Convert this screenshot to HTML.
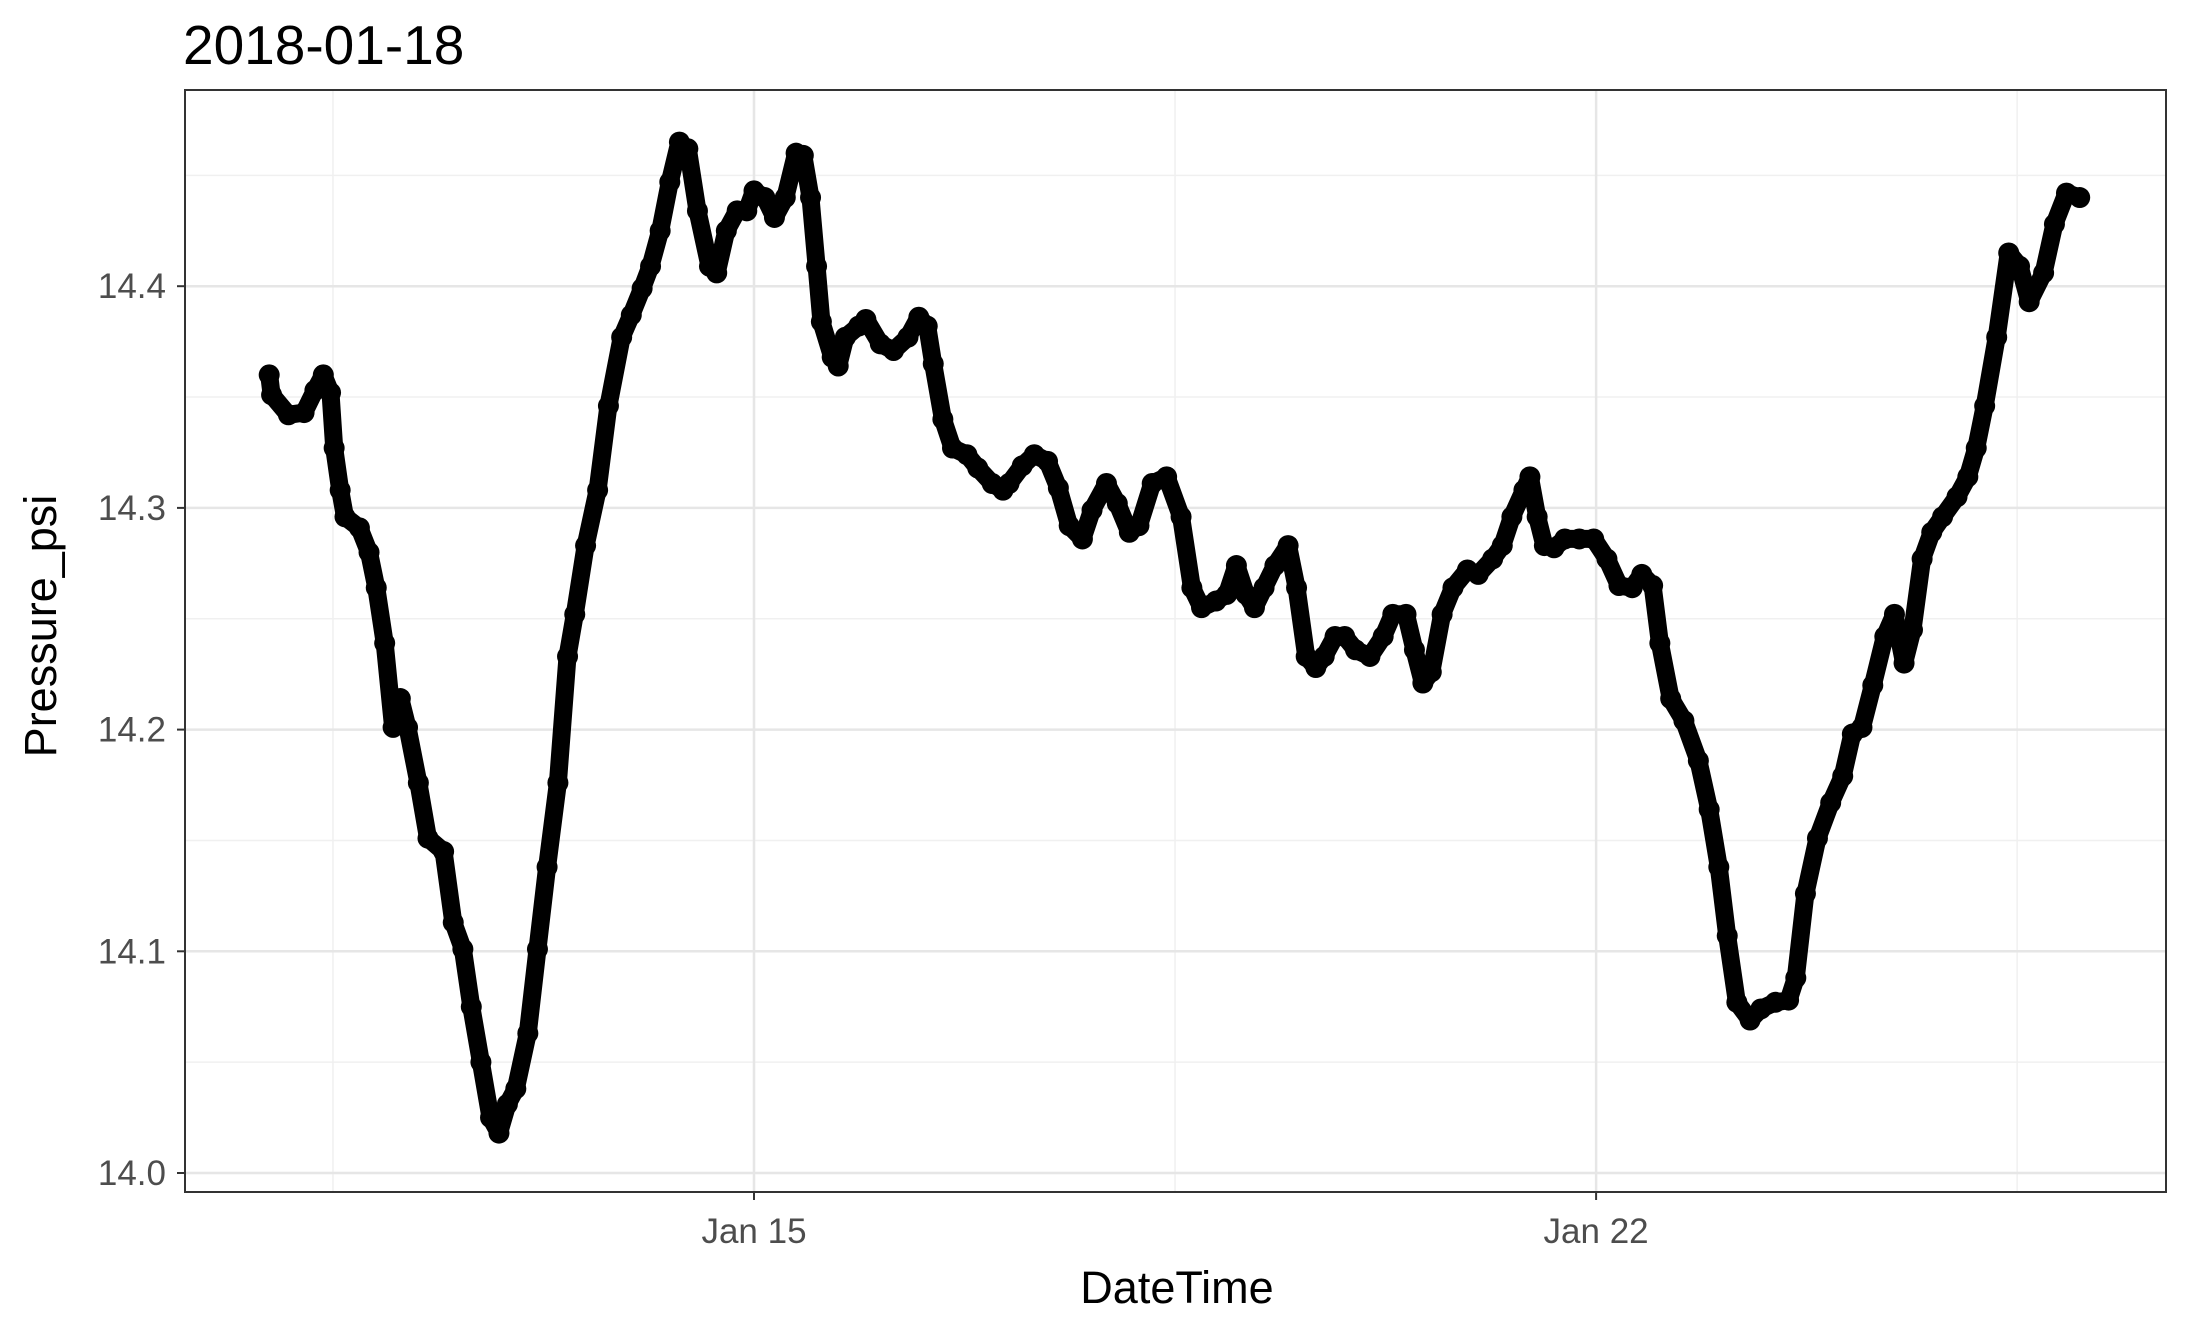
<!DOCTYPE html>
<html><head><meta charset="utf-8">
<style>
html,body{margin:0;padding:0;background:#fff;}
svg{display:block;font-family:"Liberation Sans",Arial,sans-serif;}
</style></head>
<body>
<svg id="chart" width="2190" height="1321" viewBox="0 0 2190 1321">
<rect width="2190" height="1321" fill="#fff"/>
<text x="183" y="64" font-size="55" fill="#000">2018-01-18</text>
<rect x="185" y="90" width="1981" height="1102" fill="#fff"/>
<g id="grid"></g>
<g id="series"></g>
<rect x="185" y="90" width="1981" height="1102" fill="none" stroke="#333" stroke-width="2"/>
<g id="axes"></g>
<text x="1177" y="1303" font-size="45" text-anchor="middle" fill="#000">DateTime</text>
<text transform="translate(56,626) rotate(-90)" font-size="45" text-anchor="middle" fill="#000">Pressure_psi</text>
</svg>
<script>
const days=[10.97,10.99,11.13,11.26,11.35,11.42,11.48,11.51,11.56,11.60,11.72,11.80,11.86,11.93,12.00,12.06,12.12,12.21,12.29,12.42,12.50,12.58,12.65,12.73,12.81,12.88,12.95,13.02,13.12,13.20,13.28,13.37,13.45,13.51,13.60,13.70,13.79,13.90,13.98,14.07,14.14,14.22,14.30,14.38,14.45,14.53,14.63,14.69,14.77,14.86,14.94,15.00,15.09,15.17,15.26,15.35,15.41,15.47,15.52,15.56,15.65,15.70,15.76,15.87,15.93,16.05,16.16,16.28,16.37,16.44,16.49,16.57,16.65,16.77,16.86,16.98,17.07,17.12,17.23,17.33,17.44,17.53,17.62,17.73,17.81,17.93,18.02,18.12,18.20,18.31,18.43,18.55,18.64,18.72,18.84,18.93,19.01,19.09,19.16,19.24,19.33,19.44,19.51,19.59,19.67,19.74,19.83,19.91,20.00,20.12,20.23,20.31,20.42,20.49,20.56,20.63,20.72,20.81,20.93,21.02,21.14,21.22,21.30,21.40,21.45,21.51,21.57,21.65,21.74,21.86,21.98,22.09,22.19,22.30,22.38,22.47,22.53,22.62,22.73,22.85,22.94,23.02,23.09,23.17,23.28,23.37,23.49,23.60,23.66,23.74,23.84,23.95,24.05,24.13,24.21,24.30,24.40,24.48,24.56,24.63,24.71,24.79,24.88,25.00,25.09,25.16,25.23,25.33,25.43,25.52,25.60,25.72,25.81,25.91,26.02];
const pressure=[14.360,14.351,14.342,14.343,14.353,14.360,14.352,14.327,14.308,14.296,14.291,14.280,14.264,14.239,14.201,14.214,14.201,14.176,14.151,14.145,14.113,14.101,14.075,14.050,14.025,14.018,14.031,14.038,14.063,14.101,14.138,14.176,14.233,14.252,14.283,14.308,14.346,14.377,14.387,14.399,14.409,14.425,14.447,14.465,14.462,14.434,14.409,14.406,14.425,14.434,14.434,14.443,14.440,14.431,14.440,14.460,14.459,14.440,14.409,14.384,14.368,14.364,14.377,14.382,14.385,14.374,14.371,14.377,14.386,14.382,14.365,14.340,14.327,14.324,14.318,14.311,14.308,14.311,14.319,14.324,14.321,14.309,14.292,14.286,14.299,14.311,14.302,14.289,14.292,14.311,14.314,14.296,14.264,14.255,14.258,14.261,14.274,14.261,14.255,14.264,14.274,14.283,14.264,14.233,14.228,14.233,14.242,14.242,14.236,14.233,14.242,14.252,14.252,14.236,14.221,14.226,14.252,14.264,14.272,14.270,14.277,14.283,14.296,14.308,14.314,14.296,14.283,14.282,14.286,14.286,14.286,14.277,14.265,14.264,14.270,14.265,14.239,14.214,14.204,14.186,14.164,14.138,14.107,14.077,14.069,14.074,14.077,14.078,14.088,14.126,14.151,14.167,14.179,14.198,14.201,14.220,14.242,14.252,14.230,14.245,14.277,14.289,14.296,14.305,14.314,14.327,14.346,14.377,14.415,14.409,14.393,14.406,14.428,14.442,14.440];
const yTicks=[14.0,14.1,14.2,14.3,14.4];
const yTickLabels=["14.0","14.1","14.2","14.3","14.4"];
const yMinor=[14.05,14.15,14.25,14.35,14.45];
const xTicks=[15,22];
const xTickLabels=["Jan 15","Jan 22"];
const xMinor=[11.5,18.5,25.5];

const NS="http://www.w3.org/2000/svg";
function xS(d){return 754+(d-15)*120.3;}
function yS(v){return 1173-(v-14)*2217;}
function mk(tag,attrs,parent){const e=document.createElementNS(NS,tag);for(const k in attrs)e.setAttribute(k,attrs[k]);parent.appendChild(e);return e;}
const grid=document.getElementById('grid'),axes=document.getElementById('axes'),ser=document.getElementById('series');
yMinor.forEach(v=>{const l=mk('line',{x1:185,x2:2166,y1:yS(v),y2:yS(v),stroke:'#f0f0f0','stroke-width':1.5},grid);

});
xMinor.forEach(d=>{const l=mk('line',{x1:xS(d),x2:xS(d),y1:90,y2:1192,stroke:'#f0f0f0','stroke-width':1.5},grid);

});
yTicks.forEach((v,i)=>{const l=mk('line',{x1:185,x2:2166,y1:yS(v),y2:yS(v),stroke:'#e6e6e6','stroke-width':2.5},grid);


const t=mk('line',{x1:177,x2:185,y1:yS(v),y2:yS(v),stroke:'#333','stroke-width':2},axes);


const tx=mk('text',{x:166,y:yS(v)+12,'font-size':35,'text-anchor':'end',fill:'#4d4d4d'},axes);
tx.textContent=yTickLabels[i];

});
xTicks.forEach((d,i)=>{const l=mk('line',{x1:xS(d),x2:xS(d),y1:90,y2:1192,stroke:'#e6e6e6','stroke-width':2.5},grid);


const t=mk('line',{x1:xS(d),x2:xS(d),y1:1192,y2:1200,stroke:'#333','stroke-width':2},axes);


const tx=mk('text',{x:xS(d),y:1243,'font-size':35,'text-anchor':'middle',fill:'#4d4d4d'},axes);
tx.textContent=xTickLabels[i];

});
const pts=days.map((d,i)=>xS(d).toFixed(1)+','+yS(pressure[i]).toFixed(1)).join(' ');
const pl=mk('polyline',{points:pts,fill:'none',stroke:'#000','stroke-width':18,'stroke-linejoin':'round','stroke-linecap':'round'},ser);


days.forEach((d,i)=>{const c=mk('circle',{cx:xS(d),cy:yS(pressure[i]),r:10.5,fill:'#000'},ser);

});
</script>
</body></html>
